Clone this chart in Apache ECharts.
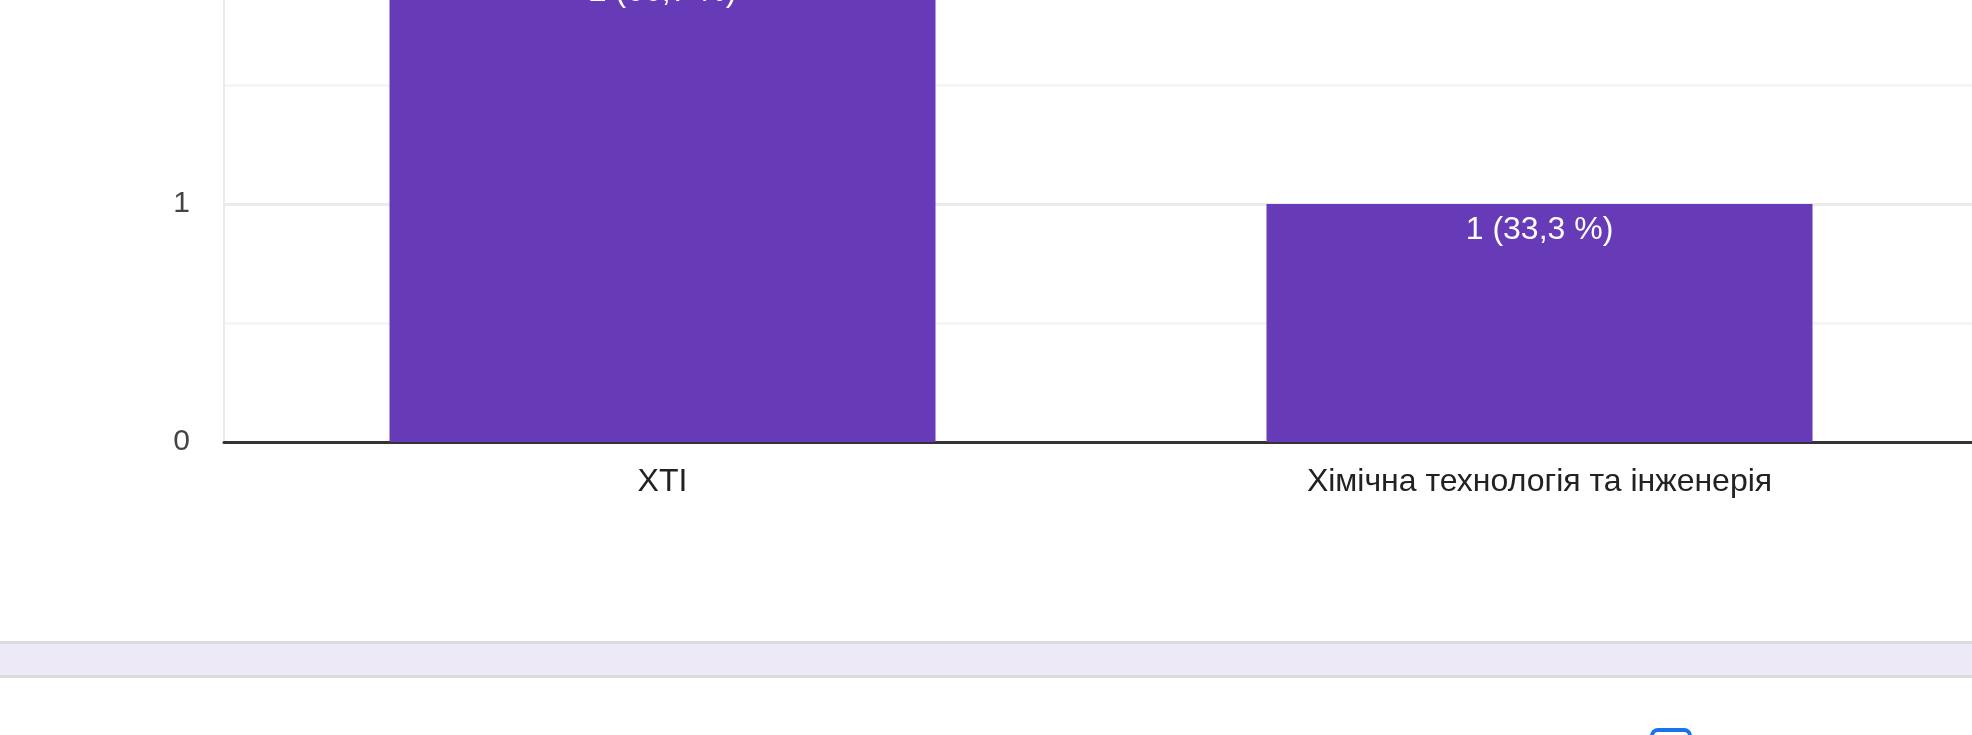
<!DOCTYPE html>
<html>
<head>
<meta charset="utf-8">
<script src="https://cdn.jsdelivr.net/npm/echarts@6/dist/echarts.min.js"></script>
<style>
html,body{margin:0;padding:0;background:#fff;overflow:hidden;width:1972px;height:735px;}
#wrap{position:absolute;left:0;top:0;width:1972px;height:735px;overflow:hidden;}
#c{position:absolute;left:0;top:-65px;width:1990px;height:800px;}
</style>
</head>
<body>
<div id="wrap"><div id="c"></div></div>
<script>
const categories = ['XTI', 'Хімічна технологія та інженерія'];
const counts = [2, 1];
const percentLabels = ['66,7 %', '33,3 %'];
const yTicks = [0, 0.5, 1, 1.5, 2];

const OFF = 65; // container is shifted up by this many pixels
const chart = echarts.init(document.getElementById('c'), null, {renderer: 'canvas'});
const font = '"Liberation Sans", Arial, sans-serif';
chart.setOption({
  animation: false,
  backgroundColor: '#ffffff',
  grid: {left: 224, right: 12, top: 31, bottom: 800 - (442 + OFF), containLabel: false},
  xAxis: {
    type: 'category',
    data: categories,
    axisLine: {show: true, lineStyle: {color: '#333333', width: 3}},
    axisTick: {show: false},
    axisLabel: {color: '#222222', fontSize: 32, fontFamily: font, margin: 24}
  },
  yAxis: {
    type: 'value',
    min: yTicks[0],
    max: yTicks[yTicks.length - 1],
    interval: yTicks[1] - yTicks[0],
    axisLine: {show: true, lineStyle: {color: '#ebebeb', width: 2}},
    axisTick: {show: false},
    splitLine: {show: true, lineStyle: {color: ['#ebebeb', '#f5f5f5'], width: 3}},
    axisLabel: {
      color: '#444444', fontSize: 30, fontFamily: font, margin: 34,
      formatter: v => (Number.isInteger(v) ? String(v) : '')
    }
  },
  series: [{
    type: 'bar',
    data: counts,
    barWidth: 546,
    itemStyle: {color: '#673ab7'},
    label: {
      show: true,
      position: 'insideTop',
      distance: 10,
      color: '#ffffff',
      fontSize: 32,
      fontFamily: font,
      formatter: p => p.value + ' (' + percentLabels[p.dataIndex] + ')'
    }
  }],
  graphic: [
    {type: 'rect', shape: {x: 0, y: 641 + OFF, width: 1990, height: 37}, style: {fill: '#dadce0'}, z: 10},
    {type: 'rect', shape: {x: 0, y: 644 + OFF, width: 1990, height: 31}, style: {fill: '#ede9f7'}, z: 11},
    {type: 'rect', shape: {x: 1652, y: 730 + OFF, width: 38, height: 38, r: 6},
     style: {fill: '#ffffff', stroke: '#1a73e8', lineWidth: 4}, z: 12}
  ]
});
</script>
</body>
</html>
